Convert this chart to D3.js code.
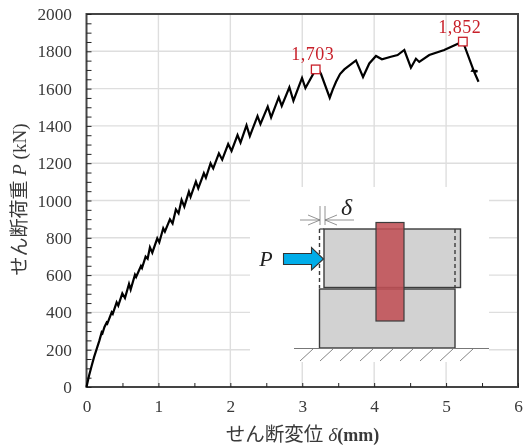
<!DOCTYPE html>
<html><head><meta charset="utf-8">
<script src="https://cdn.jsdelivr.net/npm/d3@7"></script>
<style>html,body{margin:0;background:#fff}svg{display:block;filter:blur(.35px)}text{font-family:"Liberation Serif",serif}</style>
</head><body><svg id="c" width="526" height="448"></svg>
<script>
const xTicks=[0,1,2,3,4,5,6];
const yTicks=[0,200,400,600,800,1000,1200,1400,1600,1800,2000];
const delta=[0,.035,.072,.105,.142,.18,.211,.222,.25,.28,.29,.35,.365,.419,.442,.498,.535,.591,.614,.674,.69,.757,.772,.822,.85,.882,.915,.984,1.012,1.067,1.09,1.16,1.197,1.243,1.28,1.322,1.36,1.424,1.447,1.521,1.554,1.632,1.66,1.725,1.762,1.841,1.887,1.97,2.017,2.1,2.142,2.225,2.271,2.378,2.419,2.52,2.567,2.673,2.715,2.821,2.877,2.997,3.044,3.187,3.23,3.261,3.382,3.425,3.47,3.525,3.585,3.747,3.845,3.932,4.025,4.108,4.233,4.326,4.419,4.511,4.581,4.627,4.766,4.974,5.233,5.377,5.365,5.437,5.39,5.451];
const load=[0,60,114,160,204,250,293,288,322,345,340,400,392,454,436,502,477,552,522,602,590,649,638,699,688,749,720,797,776,851,833,899,877,952,931,1003,967,1047,1020,1101,1065,1146,1122,1199,1172,1253,1219,1303,1266,1351,1310,1403,1345,1453,1410,1503,1446,1553,1507,1607,1535,1657,1603,1703,1700,1678,1551,1596,1637,1678,1703,1751,1662,1735,1775,1757,1771,1780,1807,1712,1760,1743,1780,1807,1853,1703,1696,1694,1690,1637];
const peakX=[3.187,5.233], peakY=[1703,1852], peakLabels=["1,703","1,852"];

const x=d3.scaleLinear().domain([0,6]).range([86.5,518]);
const y=d3.scaleLinear().domain([0,2000]).range([387,14]);
const svg=d3.select("#c");
const ink="#444";

svg.append("g").selectAll("line").data(yTicks.slice(1,-1)).join("line")
 .attr("x1",x(0)).attr("x2",x(6)).attr("y1",d=>y(d)).attr("y2",d=>y(d)).attr("stroke","#dedede").attr("stroke-width",1.4);
svg.append("g").selectAll("line").data(xTicks.slice(1,-1)).join("line")
 .attr("x1",d=>x(d)).attr("x2",d=>x(d)).attr("y1",y(0)).attr("y2",y(2000)).attr("stroke","#dedede").attr("stroke-width",1.4);

svg.append("rect").attr("x",250).attr("y",187).attr("width",239).attr("height",175).attr("fill","#fff");

svg.append("rect").attr("x",x(0)).attr("y",y(2000)).attr("width",x(6)-x(0)).attr("height",y(0)-y(2000)).attr("fill","none").attr("stroke",ink).attr("stroke-width",2);

const ax=svg.append("g").attr("transform",`translate(0,${y(0)})`).call(d3.axisBottom(x).tickValues(xTicks).tickSize(0).tickPadding(13).tickFormat(d3.format("d")));
const ay=svg.append("g").attr("transform",`translate(${x(0)},0)`).call(d3.axisLeft(y).tickValues(yTicks).tickSize(0).tickPadding(14.5).tickFormat(d3.format("d")));
[ax,ay].forEach(g=>{g.select(".domain").remove();g.selectAll("text").attr("font-size",17.3).attr("fill","#3a3a3a").style("font-family",'"Liberation Serif",serif');});
svg.append("g").attr("transform",`translate(0,${y(0)})`).call(d3.axisTop(x).tickValues(d3.range(13).map(i=>i/2)).tickSize(4).tickFormat("")).call(g=>{g.select(".domain").remove();g.selectAll("line").attr("stroke","#222").attr("stroke-width",1);});
svg.append("g").attr("transform",`translate(${x(0)},0)`).call(d3.axisRight(y).tickValues(d3.range(41).map(i=>i*50)).tickSize(5).tickFormat("")).call(g=>{g.select(".domain").remove();g.selectAll("line").attr("stroke","#222").attr("stroke-width",1);});

const line=d3.line().x((d,i)=>x(delta[i])).y((d,i)=>y(load[i]));
svg.append("path").datum(load).attr("d",line).attr("fill","none").attr("stroke","#000").attr("stroke-width",2.2).attr("stroke-linejoin","miter");

svg.append("g").selectAll("rect").data(peakX).join("rect")
 .attr("x",d=>x(d)-4.3).attr("y",(d,i)=>y(peakY[i])-4.3).attr("width",8.6).attr("height",8.6).attr("fill","#fff").attr("stroke","#c8202a").attr("stroke-width",1.3);
svg.append("g").selectAll("text").data(peakLabels).join("text")
 .attr("x",(d,i)=>x(peakX[i])-3).attr("y",(d,i)=>y(peakY[i])-9).attr("text-anchor","middle").attr("font-size",18).attr("letter-spacing",.5).attr("fill","#c8202a").text(d=>d);

const cjk='"Liberation Serif","Noto Sans CJK JP",serif';
const xl=svg.append("text").attr("x",302.5).attr("y",441).attr("text-anchor","middle").attr("fill","#3a3a3a").attr("font-size",19.5).style("font-family",cjk);
xl.append("tspan").text("せん断変位 ");
xl.append("tspan").attr("font-style","italic").text("δ");
xl.append("tspan").attr("font-weight","bold").attr("font-size",18).text("(mm)");
const yl=svg.append("text").attr("transform","translate(26,199.5) rotate(-90)").attr("text-anchor","middle").attr("fill","#3a3a3a").attr("font-size",19).style("font-family",cjk);
yl.append("tspan").text("せん断荷重 ");
yl.append("tspan").attr("font-style","italic").text("P");
yl.append("tspan").text(" (kN)");

// inset schematic
const s=svg.append("g");
const R=(a,b,w,h,f,st,sw)=>s.append("rect").attr("x",a).attr("y",b).attr("width",w).attr("height",h).attr("fill",f).attr("stroke",st||"none").attr("stroke-width",sw||0);
const L=(a,b,c,d,st,sw,dash)=>s.append("line").attr("x1",a).attr("y1",b).attr("x2",c).attr("y2",d).attr("stroke",st).attr("stroke-width",sw).attr("stroke-dasharray",dash||null);
R(324,229,136.5,58.5,"#d2d2d2","#3c3c3c",1.4);
R(319.5,289,135.5,59,"#d2d2d2","#3c3c3c",1.4);
R(376,222.5,28,98.5,"#c05055","#3c3c3c",1.2).attr("fill-opacity",.88);
L(319.5,229,319.5,288,"#3c3c3c",1.4,"4 3");
L(319.5,229,324,229,"#3c3c3c",1.2);
L(455,229,455,288,"#3c3c3c",1.4,"4 3");
L(294,348.5,489,348.5,"#777",1);
d3.range(9).forEach(i=>L(300+i*20,361,313+i*20,349,"#777",.9));
// delta marker
L(320,206,320,225,"#777",.8);L(325,206,325,225,"#777",.8);
L(300,220,320,220,"#777",.8);L(325,220,354,220,"#777",.8);
s.append("path").attr("d","M308 215L320 220L308 225M337 215L325 220L337 225").attr("fill","none").attr("stroke","#777").attr("stroke-width",.8);
s.append("path").attr("d","M283.5 253.5H311.5V247.5L323.5 259L311.5 270V264.5H283.5Z").attr("fill","#00ade9").attr("stroke","#333").attr("stroke-width",1.1);
s.append("text").attr("x",346.5).attr("y",215).attr("text-anchor","middle").attr("font-size",24).attr("font-style","italic").attr("fill","#222").text("δ");
s.append("text").attr("x",266).attr("y",266).attr("text-anchor","middle").attr("font-size",22).attr("font-style","italic").attr("fill","#222").text("P");
</script></body></html>
